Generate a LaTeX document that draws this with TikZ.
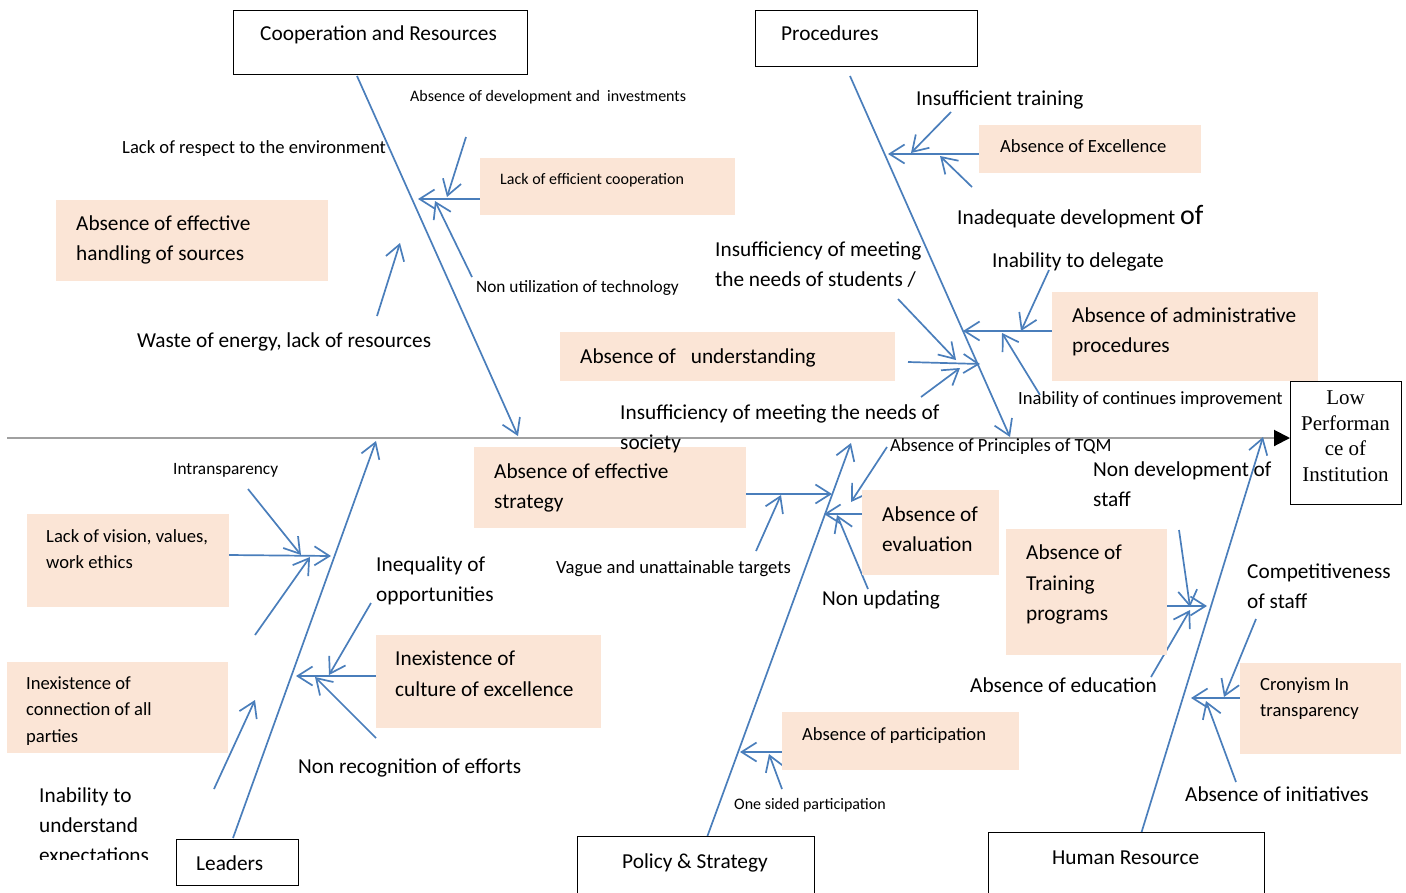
\documentclass[tikz,border=0pt]{standalone}
\usepackage{fontspec}
\setmainfont{Carlito}
\newfontfamily\tnr{Liberation Serif}
\usetikzlibrary{arrows.meta}
\definecolor{bone}{RGB}{74,126,187}
\definecolor{peach}{RGB}{251,229,214}
\definecolor{spinec}{RGB}{160,160,160}
\newcommand\fL{\fontsize{21.3}{30}\selectfont}
\newcommand\fM{\fontsize{18.6}{26}\selectfont}
\newcommand\fS{\fontsize{16}{20}\selectfont}
\newcommand\fT{\fontsize{17.3}{21}\selectfont}
\newcommand\fE{\fontsize{21}{25}\selectfont\tnr}
% peach box: name, x, y, width, height
\newcommand\pbx[5]{\node[pbox,minimum width=#4pt,minimum height=#5pt] (#1) at (#2,#3) {};}
% category box
\newcommand\cbx[5]{\node[cbox,minimum width=#4pt,minimum height=#5pt] (#1) at (#2,#3) {};}
% text line: name, x, baseline y, font, text
\newcommand\tx[5]{\node[lbl,font=#4] (#1) at (#2,#3) {#5};}
\begin{document}
\begin{tikzpicture}[x=1pt,y=-1pt,
  pbox/.style={fill=peach,inner sep=0pt,anchor=north west},
  cbox/.style={draw=black,line width=1.4pt,fill=white,inner sep=0pt,anchor=north west},
  lbl/.style={anchor=base west,inner sep=0pt,yshift=-1pt},
  arr/.style={draw=bone,line width=1.7pt,-{Straight Barb[length=15pt,width=19pt,line width=1.7pt]}},
  spine/.style={draw=spinec,line width=2pt,-{Triangle[length=16pt,width=16pt,fill=black,color=black]}}
  ]
\useasboundingbox (0,0) rectangle (1406,892);

% ---------- coordinates ----------
\coordinate (sp0) at (7,438);
% main bones
\coordinate (B1s) at (357,76);   \coordinate (B1e) at (518,436);
\coordinate (B2s) at (850,76);   \coordinate (B2e) at (1010,437);
\coordinate (B3s) at (233,838);  \coordinate (B3e) at (376,441);
\coordinate (B4s) at (706,840);  \coordinate (B4e) at (851,443);
\coordinate (B5s) at (1141,834); \coordinate (B5e) at (1263,437);
% cooperation
\coordinate (a1s) at (466,137); \coordinate (a1e) at (447,197);
\coordinate (a2s) at (480,199); \coordinate (a2e) at (418,199);
\coordinate (a3s) at (472,277); \coordinate (a3e) at (435,201);
\coordinate (a4s) at (377,316); \coordinate (a4e) at (400,243);
% procedures
\coordinate (b1s) at (951,112);  \coordinate (b1e) at (911,153);
\coordinate (b2s) at (980,154);  \coordinate (b2e) at (888,154);
\coordinate (b3s) at (972,187);  \coordinate (b3e) at (940,156);
\coordinate (b4s) at (1049,270); \coordinate (b4e) at (1021,331);
\coordinate (b5s) at (1053,331); \coordinate (b5e) at (963,331);
\coordinate (b6s) at (1040,395); \coordinate (b6e) at (1002,333);
\coordinate (b7s) at (898,299);  \coordinate (b7e) at (956,360);
\coordinate (b8s) at (908,362);  \coordinate (b8e) at (980,364);
\coordinate (b9s) at (921,397);  \coordinate (b9e) at (960,368);
% leaders
\coordinate (c1s) at (248,489); \coordinate (c1e) at (301,555);
\coordinate (c2s) at (229,555); \coordinate (c2e) at (331,556);
\coordinate (c3s) at (255,635); \coordinate (c3e) at (310,557);
\coordinate (c4s) at (214,789); \coordinate (c4e) at (255,700);
\coordinate (c5s) at (371,603); \coordinate (c5e) at (329,675);
\coordinate (c6s) at (376,676); \coordinate (c6e) at (296,676);
\coordinate (c7s) at (376,738); \coordinate (c7e) at (315,677);
% policy
\coordinate (d1s) at (746,494); \coordinate (d1e) at (832,494);
\coordinate (d2s) at (756,551); \coordinate (d2e) at (781,495);
\coordinate (d3s) at (887,447); \coordinate (d3e) at (851,502);
\coordinate (d4s) at (862,514); \coordinate (d4e) at (824,514);
\coordinate (d5s) at (868,589); \coordinate (d5e) at (837,515);
\coordinate (d6s) at (782,752); \coordinate (d6e) at (740,752);
\coordinate (d7s) at (782,789); \coordinate (d7e) at (769,754);
% human resource
\coordinate (e1s) at (1179,530); \coordinate (e1e) at (1190,607);
\coordinate (e2s) at (1167,606); \coordinate (e2e) at (1207,606);
\coordinate (e3s) at (1151,677); \coordinate (e3e) at (1190,610);
\coordinate (e4s) at (1256,619); \coordinate (e4e) at (1224,697);
\coordinate (e5s) at (1241,698); \coordinate (e5e) at (1191,698);
\coordinate (e6s) at (1236,782); \coordinate (e6e) at (1206,701);

% ---------- effect box and spine ----------
\node[draw=black,line width=1pt,fill=white,inner sep=0pt,anchor=north west,
      minimum width=111pt,minimum height=123pt] (eff) at (1290,381) {};
\draw[spine] (sp0) -- (sp0 -| eff.west);
\node[anchor=base,inner sep=0pt,font=\fE] (ef1) at (1345.5,404) {Low};
\node[anchor=base,inner sep=0pt,font=\fE] (ef2) at (1345.5,430) {Performan};
\node[anchor=base,inner sep=0pt,font=\fE] (ef3) at (1345.5,455) {ce of};
\node[anchor=base,inner sep=0pt,font=\fE] (ef4) at (1345.5,481) {Institution};

% ---------- bones ----------
\foreach \b in {B1,B2,B3,B4,B5,a1,a2,a3,a4,b1,b2,b3,b4,b5,b6,b7,b8,b9,
                c1,c2,c3,c4,c5,c6,c7,d1,d2,d3,d4,d5,d6,d7,e1,e2,e3,e4,e5,e6}
  {\draw[arr] (\b s) -- (\b e);}

% ---------- category boxes ----------
\cbx{coop}{233}{10}{294}{64}
\cbx{proc}{755}{10}{222}{56}
\cbx{lead}{176}{839}{122}{46}
\cbx{poli}{577}{836}{237}{70}
\cbx{hres}{988}{832}{276}{70}
\tx{coopt}{260}{39.5}{\fL}{Cooperation and Resources}
\tx{proct}{781}{39.5}{\fL}{Procedures}
\tx{leadt}{196}{869.5}{\fL}{Leaders}
\tx{polit}{622}{867.5}{\fL}{Policy \& Strategy}
\tx{hrest}{1052}{863.5}{\fL}{Human Resource}

% ---------- peach boxes ----------
\pbx{p1}{56}{200}{272}{81}
\pbx{p2}{480}{158}{255}{57}
\pbx{p3}{979}{125}{222}{48}
\pbx{p4}{1052}{292}{266}{89}
\pbx{p5}{560}{332}{335}{49}
\pbx{p6}{474}{447}{272}{81}
\pbx{p7}{27}{514}{202}{93}
\pbx{p8}{7}{662}{221}{91}
\pbx{p9}{376}{635}{225}{93}
\pbx{p10}{862}{490}{137}{85}
\pbx{p11}{1006}{529}{161}{126}
\pbx{p12}{782}{712}{237}{58}
\pbx{p13}{1240}{663}{161}{91}

% ---------- texts: cooperation ----------
\tx{t01}{410}{100}{\fS}{Absence of development and\ \ investments}
\tx{t02}{122}{152.7}{\fM}{Lack of respect to the environment}
\tx{t03}{500}{183}{\fS}{Lack of efficient cooperation}
\tx{t04a}{76}{229.5}{\fL}{Absence of effective}
\tx{t04b}{76}{259.5}{\fL}{handling of sources}
\tx{t05}{476}{291.3}{\fT}{Non utilization of technology}
\tx{t06}{137}{346.5}{\fL}{Waste of energy, lack of resources}

% ---------- texts: procedures ----------
\tx{t07}{916}{104.5}{\fL}{Insufficient training}
\tx{t08}{1000}{151.7}{\fM}{Absence of Excellence}
\tx{t09}{957}{223.5}{\fL}{Inadequate development {\fontsize{28}{30}\selectfont of}}
\tx{t10a}{715}{255.5}{\fL}{Insufficiency of meeting}
\tx{t10b}{715}{285.5}{\fL}{the needs of students /}
\tx{t11}{992}{266.5}{\fL}{Inability to delegate}
\tx{t12a}{1072}{321.5}{\fL}{Absence of administrative}
\tx{t12b}{1072}{351.5}{\fL}{procedures}
\tx{t13}{580}{362.5}{\fL}{Absence of\hspace{15pt}understanding}
\tx{t14}{1018}{403.7}{\fM}{Inability of continues improvement}
\tx{t15a}{620}{418.5}{\fL}{Insufficiency of meeting the needs of}
\tx{t15b}{620}{448.5}{\fL}{society}

% ---------- texts: leaders ----------
\tx{t16}{173}{473.3}{\fT}{Intransparency}
\tx{t17a}{46}{541.7}{\fM}{Lack of vision, values,}
\tx{t17b}{46}{567.7}{\fM}{work ethics}
\tx{t18a}{376}{570.5}{\fL}{Inequality of}
\tx{t18b}{376}{600.5}{\fL}{opportunities}
\tx{t19a}{395}{664.5}{\fL}{Inexistence of}
\tx{t19b}{395}{695.5}{\fL}{culture of excellence}
\tx{t20a}{26}{688.7}{\fM}{Inexistence of}
\tx{t20b}{26}{714.7}{\fM}{connection of all}
\tx{t20c}{26}{741.7}{\fM}{parties}
\tx{t21}{298}{772.5}{\fL}{Non recognition of efforts}
\begin{scope}
\clip (0,780) rectangle (175,859);
\tx{t22a}{39}{801.5}{\fL}{Inability to}
\tx{t22b}{39}{831.5}{\fL}{understand}
\tx{t22c}{39}{861.5}{\fL}{expectations}
\end{scope}

% ---------- texts: policy ----------
\tx{t23a}{494}{477.5}{\fL}{Absence of effective}
\tx{t23b}{494}{507.5}{\fL}{strategy}
\tx{t24}{890}{450.7}{\fM}{Absence of Principles of TQM}
\tx{t25}{556}{572.7}{\fM}{Vague and unattainable targets}
\tx{t26a}{882}{520.5}{\fL}{Absence of}
\tx{t26b}{882}{550.5}{\fL}{evaluation}
\tx{t27}{822}{604.5}{\fL}{Non updating}
\tx{t28}{802}{739.7}{\fM}{Absence of participation}
\tx{t29}{734}{808}{\fS}{One sided participation}

% ---------- texts: human resource ----------
\tx{t30a}{1093}{475.5}{\fL}{Non development of}
\tx{t30b}{1093}{505.5}{\fL}{staff}
\tx{t31a}{1026}{558.5}{\fL}{Absence of}
\tx{t31b}{1026}{589.5}{\fL}{Training}
\tx{t31c}{1026}{619.5}{\fL}{programs}
\tx{t32}{970}{691.5}{\fL}{Absence of education}
\tx{t33a}{1247}{577.5}{\fL}{Competitiveness}
\tx{t33b}{1247}{607.5}{\fL}{of staff}
\tx{t34a}{1260}{689.7}{\fM}{Cronyism In}
\tx{t34b}{1260}{715.7}{\fM}{transparency}
\tx{t35}{1185}{800.5}{\fL}{Absence of initiatives}
\end{tikzpicture}
\end{document}
